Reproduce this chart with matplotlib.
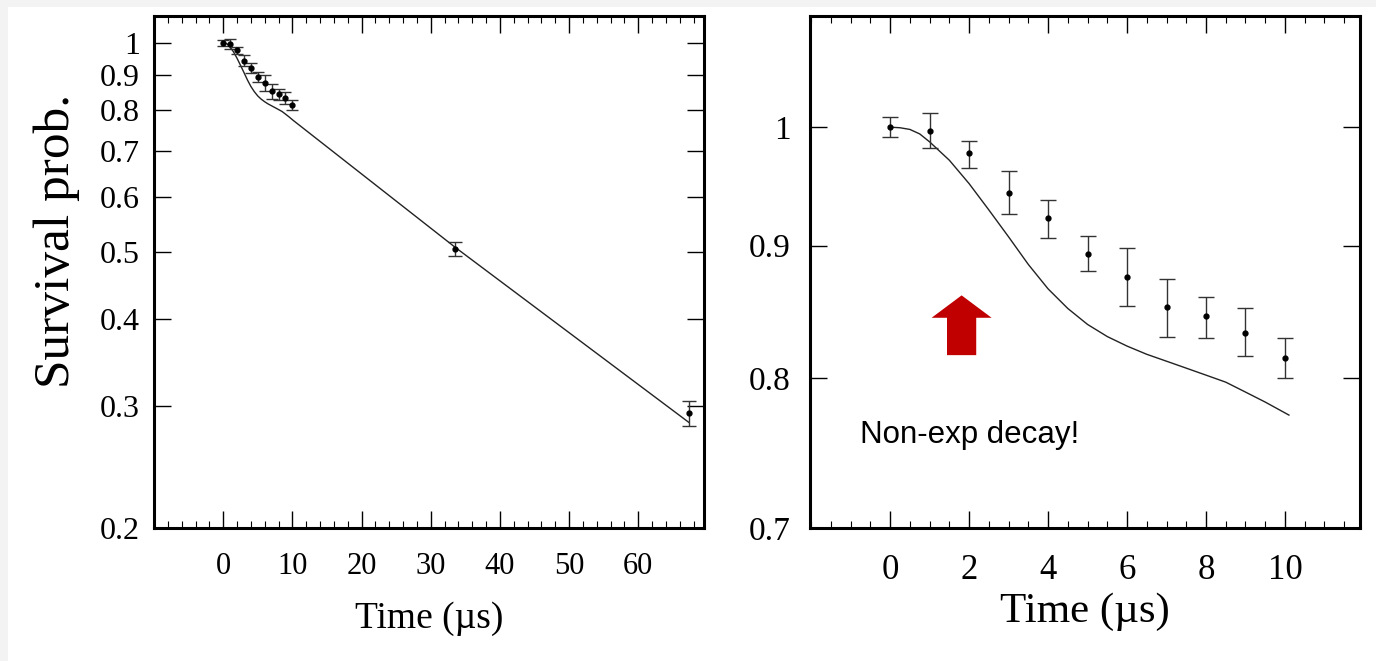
import matplotlib
matplotlib.use("Agg")
import matplotlib.pyplot as plt
from matplotlib.patches import Rectangle, Polygon
from matplotlib.ticker import FixedLocator, MultipleLocator, NullLocator, NullFormatter

# ---------------- data ----------------
# measured survival probability (time in microseconds)
meas_t = [0, 1, 2, 3, 4, 5, 6, 7, 8, 9, 10]
meas_p = [1.000, 0.9965, 0.977, 0.943, 0.922, 0.893, 0.875, 0.852, 0.845, 0.833, 0.814]
meas_err_lo = [0.009, 0.015, 0.013, 0.017, 0.016, 0.013, 0.022, 0.022, 0.016, 0.017, 0.014]
meas_err_hi = [0.009, 0.016, 0.011, 0.019, 0.015, 0.015, 0.023, 0.022, 0.015, 0.018, 0.015]

# long-time measurements (left panel only)
long_t = [33.5, 67.3]
long_p = [0.505, 0.293]
long_err = [0.012, 0.012]

# theory curve
curve_t = [0, 0.25, 0.5, 0.75, 1, 1.5, 2, 2.5, 3, 3.5, 4, 4.5, 5, 5.5, 6, 6.5,
           7, 7.5, 8, 8.5, 9, 9.5, 10.1]
curve_p = [1.000, 0.9995, 0.998, 0.994, 0.987, 0.971, 0.951, 0.929, 0.907, 0.885,
           0.866, 0.851, 0.839, 0.830, 0.823, 0.817, 0.812, 0.807, 0.802, 0.797,
           0.790, 0.783, 0.774]
left_curve_t = curve_t + [33.5, 67.3]
left_curve_p = curve_p + [0.508, 0.284]

left_yticks = [0.2, 0.3, 0.4, 0.5, 0.6, 0.7, 0.8, 0.9, 1.0]
left_ytick_labels = ["0.2", "0.3", "0.4", "0.5", "0.6", "0.7", "0.8", "0.9", "1"]
left_xticks = [0, 10, 20, 30, 40, 50, 60]
right_yticks = [0.7, 0.8, 0.9, 1.0]
right_ytick_labels = ["0.7", "0.8", "0.9", "1"]
right_xticks = [0, 2, 4, 6, 8, 10]

# annotation arrow (data coords of right panel)
arrow_x = 1.81
arrow_tip = 0.861
arrow_head_base = 0.844
arrow_bottom = 0.8164
arrow_head_hw = 0.76
arrow_shaft_hw = 0.37

SERIF = ["Liberation Serif", "DejaVu Serif"]
plt.rcParams["font.family"] = SERIF

W, H = 1376, 661
fig = plt.figure(figsize=(W / 100, H / 100), dpi=100, facecolor="#f3f3f3")
bg = Rectangle((8 / W, 0), 1 - 8 / W, 1 - 7 / H, transform=fig.transFigure,
               facecolor="white", edgecolor="none", zorder=-10)
fig.patches.append(bg)


def px_axes(x0, x1, y0, y1):
    return fig.add_axes([x0 / W, 1 - y1 / H, (x1 - x0) / W, (y1 - y0) / H])


axL = px_axes(154, 704, 16, 528)
axR = px_axes(810, 1360, 16, 528)

for ax in (axL, axR):
    ax.set_facecolor("white")
    for s in ax.spines.values():
        s.set_linewidth(2.2)
        s.set_color("black")
    ax.tick_params(which="both", direction="in", top=True, right=True, color="black")
    ax.tick_params(which="major", length=12, width=1.0)
    ax.tick_params(which="minor", length=5, width=0.8)

# ---------- left panel ----------
axL.set_yscale("log")
axL.set_xlim(-10, 69.5)
axL.set_ylim(0.2, 1.094)
axL.plot(left_curve_t, left_curve_p, color="#222222", lw=1.0)
axL.errorbar(meas_t, meas_p, yerr=[meas_err_lo, meas_err_hi], fmt="o", ms=3.5,
             color="black", ecolor="#333333", elinewidth=1.0, capsize=4, capthick=1.0)
axL.errorbar(long_t, long_p, yerr=long_err, fmt="o", ms=3.5,
             color="black", ecolor="#333333", elinewidth=1.0, capsize=5, capthick=1.0)
axL.yaxis.set_major_locator(FixedLocator(left_yticks))
axL.yaxis.set_minor_locator(NullLocator())
axL.yaxis.set_minor_formatter(NullFormatter())
axL.set_yticklabels(left_ytick_labels)
axL.xaxis.set_major_locator(FixedLocator(left_xticks))
axL.xaxis.set_minor_locator(MultipleLocator(2))
axL.tick_params(axis="y", labelsize=23, pad=10)
axL.tick_params(axis="x", labelsize=22, pad=17)
axL.set_xlabel("Time (µs)", fontsize=27, labelpad=15)
axL.set_ylabel("Survival prob.", fontsize=37)
axL.yaxis.set_label_coords(-0.135, 0.56)

# ---------- right panel ----------
axR.set_yscale("log")
axR.set_xlim(-2.03, 11.9)
axR.set_ylim(0.7, 1.104)
axR.plot(curve_t, curve_p, color="#222222", lw=1.0)
axR.errorbar(meas_t, meas_p, yerr=[meas_err_lo, meas_err_hi], fmt="o", ms=3.5,
             color="black", ecolor="#333333", elinewidth=1.0, capsize=6, capthick=1.0)
axR.yaxis.set_major_locator(FixedLocator(right_yticks))
axR.yaxis.set_minor_locator(NullLocator())
axR.yaxis.set_minor_formatter(NullFormatter())
axR.set_yticklabels(right_ytick_labels)
axR.xaxis.set_major_locator(FixedLocator(right_xticks))
axR.xaxis.set_minor_locator(MultipleLocator(0.5))
axR.tick_params(axis="y", labelsize=24, pad=14)
axR.tick_params(axis="x", labelsize=25, pad=19)
axR.set_xlabel("Time (µs)", fontsize=31, labelpad=4)

# red arrow
verts = [
    (arrow_x, arrow_tip),
    (arrow_x + arrow_head_hw, arrow_head_base),
    (arrow_x + arrow_shaft_hw, arrow_head_base),
    (arrow_x + arrow_shaft_hw, arrow_bottom),
    (arrow_x - arrow_shaft_hw, arrow_bottom),
    (arrow_x - arrow_shaft_hw, arrow_head_base),
    (arrow_x - arrow_head_hw, arrow_head_base),
]
axR.add_patch(Polygon(verts, closed=True, facecolor="#c00000", edgecolor="none", zorder=5))
axR.text(-0.76, 0.7604, "Non-exp decay!", fontsize=22.5,
         family=["Liberation Sans", "DejaVu Sans"], ha="left", va="center", color="black")

fig.savefig("out.png", dpi=100, facecolor=fig.get_facecolor())
